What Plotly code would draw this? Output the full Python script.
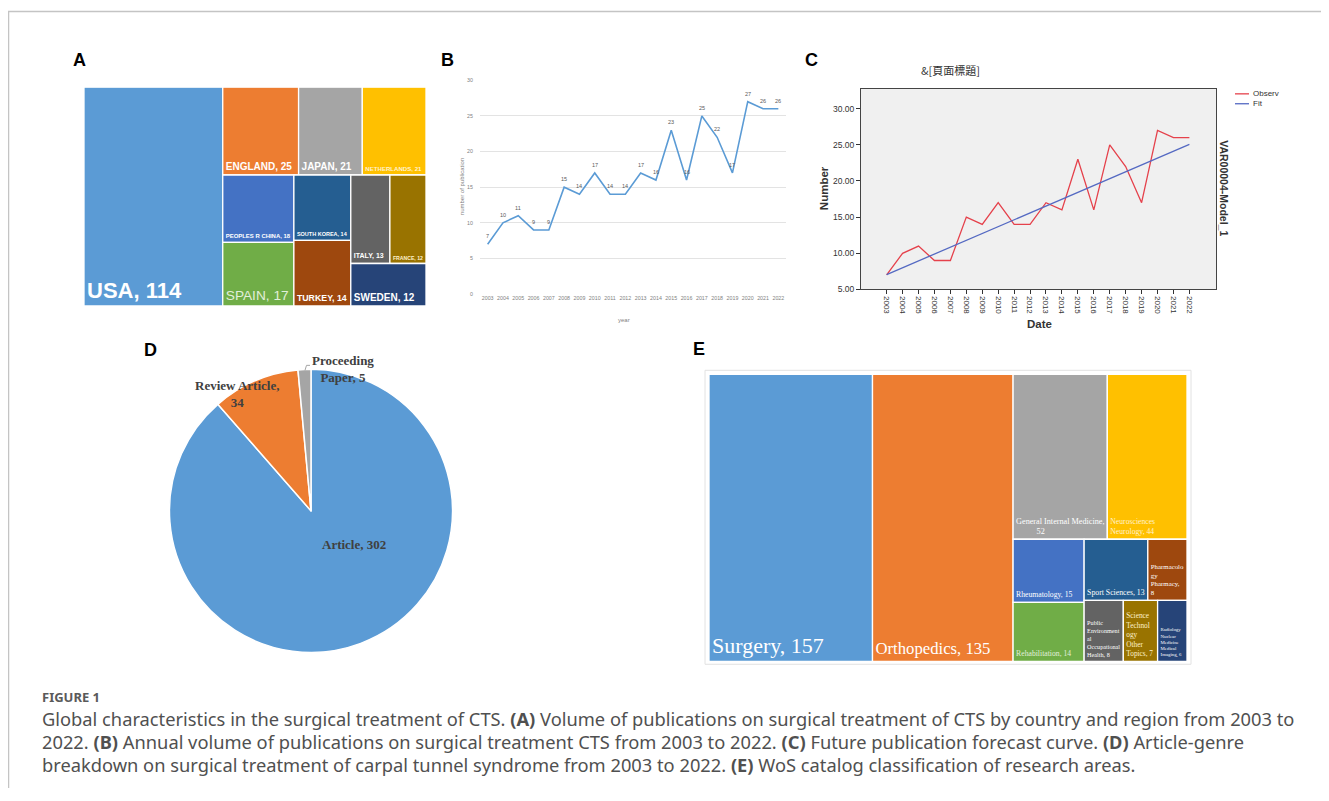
import plotly.graph_objects as go

# The page body has an 8px default margin, so the figure is drawn 8px in and
# sized so that the page exactly fills the 1329x801 window.
OFF = 8
FIG_W, FIG_H = 1329 - 2 * OFF, 801 - 2 * OFF

# ---------------- data ----------------
# Panel A: countries
countries = ["USA", "ENGLAND", "JAPAN", "NETHERLANDS", "PEOPLES R CHINA", "SPAIN",
             "SOUTH KOREA", "TURKEY", "ITALY", "FRANCE", "SWEDEN"]
country_counts = [114, 25, 21, 21, 18, 17, 14, 14, 13, 12, 12]

# Panel B / C: yearly publications
years = ["2003", "2004", "2005", "2006", "2007", "2008", "2009", "2010", "2011", "2012",
         "2013", "2014", "2015", "2016", "2017", "2018", "2019", "2020", "2021", "2022"]
publications = [7, 10, 11, 9, 9, 15, 14, 17, 14, 14, 17, 16, 23, 16, 25, 22, 17, 27, 26, 26]
fit_years = [2003, 2022]
fit_values = [7.05, 25.07]
c_yticks = [5, 10, 15, 20, 25, 30]

# Panel D: article genres
genres = ["Article", "Review Article", "Proceeding Paper"]
genre_counts = [302, 34, 5]

# Panel E: research areas
areas = ["Surgery", "Orthopedics", "General Internal Medicine", "Neurosciences Neurology",
         "Rheumatology", "Rehabilitation", "Sport Sciences", "Pharmacology Pharmacy",
         "Public Environmental Occupational Health", "Science Technology Other Topics",
         "Radiology Nuclear Medicine Medical Imaging"]
area_counts = [157, 135, 52, 44, 15, 14, 13, 8, 8, 7, 6]
area_display = ["Surgery, 157", "Orthopedics, 135", "General Internal Medicine,<br>          52",
                "Neurosciences<br>Neurology, 44", "Rheumatology, 15", "Rehabilitation, 14",
                "Sport Sciences, 13", "Pharmacolo<br>gy<br>Pharmacy,<br>8",
                "Public<br>Environment<br>al<br>Occupational<br>Health, 8",
                "Science<br>Technol<br>ogy<br>Other<br>Topics, 7",
                "Radiology<br>Nuclear<br>Medicine<br>Medical<br>Imaging, 6"]

# ---------------- styles ----------------
a_colors = ["#5B9BD5", "#ED7D31", "#A5A5A5", "#FFC000", "#4472C4", "#70AD47",
            "#255E91", "#9E480E", "#636363", "#997300", "#264478"]
a_text_colors = ["white", "white", "white", "#FFF2CC", "white", "#E2EFDA",
                 "white", "white", "white", "#FFF2CC", "white"]
a_sizes = [22, 10, 10, 6.1, 6, 13.7, 5.5, 8.8, 7, 5.3, 10]
a_templates = ["<b>%{label}, %{value}</b>"] * len(countries)
a_templates[5] = "%{label}, %{value}"
e_colors = ["#5B9BD5", "#ED7D31", "#A5A5A5", "#FFC000", "#4472C4", "#70AD47",
            "#255E91", "#9E480E", "#636363", "#997300", "#264478"]
e_text_colors = ["white", "white", "white", "#FFF2CC", "white", "#E2EFDA",
                 "white", "white", "white", "#FFF2CC", "white"]
e_sizes = [22, 16.7, 8.4, 7.7, 7.7, 7.7, 7.8, 7, 6.2, 7.3, 4.8]


def fx(px):
    return (px - OFF) / FIG_W


def fy(py):
    return 1 - (py - OFF) / FIG_H


fig = go.Figure()

# ---------------- Panel A ----------------
fig.add_trace(go.Treemap(
    labels=countries, parents=[""] * len(countries), values=country_counts,
    marker=dict(colors=a_colors, line=dict(color="white", width=1.3),
                pad=dict(t=0, l=0, r=0, b=0)),
    tiling=dict(packing="squarify", squarifyratio=1.27, pad=0),
    texttemplate=a_templates, textposition="bottom left",
    textfont=dict(family="Liberation Sans", size=a_sizes, color=a_text_colors),
    pathbar=dict(visible=False), sort=True,
    domain=dict(x=[fx(84), fx(426)], y=[fy(306), fy(85)]),
    hoverinfo="label+value",
))

# ---------------- Panel B ----------------
fig.add_trace(go.Scatter(
    x=years, y=publications, mode="lines",
    line=dict(color="#5B9BD5", width=1.6), xaxis="x", yaxis="y",
    cliponaxis=False, showlegend=False,
))

# ---------------- Panel C ----------------
year_nums = [int(y) for y in years]
fig.add_trace(go.Scatter(
    x=year_nums, y=publications, mode="lines", line=dict(color="#E5414B", width=1.3),
    xaxis="x2", yaxis="y2", name="Observed", showlegend=False,
))
fig.add_trace(go.Scatter(
    x=fit_years, y=fit_values, mode="lines", line=dict(color="#5469C2", width=1.3),
    xaxis="x2", yaxis="y2", name="Fit", showlegend=False,
))

# ---------------- Panel D ----------------
fig.add_trace(go.Pie(
    labels=genres, values=genre_counts, sort=False, direction="clockwise", rotation=0,
    marker=dict(colors=["#5B9BD5", "#ED7D31", "#A5A5A5"], line=dict(color="white", width=1.5)),
    textinfo="none",
    domain=dict(x=[fx(168), fx(454)], y=[fy(656), fy(370)]),
    showlegend=False, hoverinfo="label+value",
))

# ---------------- Panel E ----------------
fig.add_trace(go.Treemap(
    labels=areas, parents=[""] * len(areas), values=area_counts, text=area_display,
    marker=dict(colors=e_colors, line=dict(color="white", width=1.3),
                pad=dict(t=0, l=0, r=0, b=0)),
    tiling=dict(packing="squarify", squarifyratio=1.06, pad=0),
    texttemplate="%{text}", textposition="bottom left",
    textfont=dict(family="Liberation Serif", size=e_sizes, color=e_text_colors),
    pathbar=dict(visible=False), sort=True,
    domain=dict(x=[fx(709), fx(1187)], y=[fy(665), fy(375)]),
    hoverinfo="label+value",
))

grey_tick = dict(size=5.3, color="#7F7F7F", family="Liberation Sans")
fig.update_layout(
    width=FIG_W, height=FIG_H, margin=dict(l=0, r=0, t=0, b=0),
    paper_bgcolor="white", plot_bgcolor="rgba(0,0,0,0)", showlegend=False,
    xaxis=dict(domain=[fx(480), fx(786)], type="category", range=[-0.5, 19.5],
               showgrid=False, showline=False, zeroline=False, ticks="",
               tickfont=grey_tick, anchor="y", fixedrange=True),
    yaxis=dict(domain=[fy(294), fy(78)], range=[0, 30], dtick=5, showgrid=True,
               gridcolor="#E3E3E3", gridwidth=0.8, zeroline=False, showline=False,
               ticks="", tickfont=grey_tick, anchor="x", ticklabelstandoff=6, fixedrange=True),
    xaxis2=dict(domain=[fx(861), fx(1216)], range=[2001.39, 2023.67],
                tickvals=year_nums, ticktext=years, tickangle=90, ticks="outside",
                ticklen=4, tickcolor="#333", showline=True, mirror=True, linecolor="#444",
                linewidth=1, showgrid=False, zeroline=False,
                tickfont=dict(size=8, color="#333", family="Liberation Sans"),
                anchor="y2", fixedrange=True),
    yaxis2=dict(domain=[fy(289.3), fy(86.7)], range=[5, 32.74], tickvals=c_yticks,
                tickformat=".2f", ticks="outside", ticklen=4, tickcolor="#333",
                showline=True, mirror=True, linecolor="#444", linewidth=1,
                showgrid=False, zeroline=False,
                tickfont=dict(size=8.5, color="#333", family="Liberation Sans"),
                anchor="x2", fixedrange=True),
)

shapes = [
    # outer frame
    dict(type="line", xref="paper", yref="paper", x0=fx(8), x1=1, y0=fy(8.5), y1=fy(8.5),
         line=dict(color="#C4C4C4", width=1.5)),
    dict(type="line", xref="paper", yref="paper", x0=fx(8.5), x1=fx(8.5), y0=fy(8), y1=0,
         line=dict(color="#C4C4C4", width=1.5)),
    # panel C background
    dict(type="rect", xref="x2 domain", yref="y2 domain", x0=0, x1=1, y0=0, y1=1,
         fillcolor="#F0F0F0", line=dict(width=0), layer="below"),
    # panel C legend
    dict(type="line", xref="paper", yref="paper", x0=fx(1235), x1=fx(1249), y0=fy(91.7),
         y1=fy(91.7), line=dict(color="#E5414B", width=1.3)),
    dict(type="line", xref="paper", yref="paper", x0=fx(1235), x1=fx(1249), y0=fy(101.7),
         y1=fy(101.7), line=dict(color="#5469C2", width=1.3)),
    # panel E frame
    dict(type="rect", xref="paper", yref="paper", x0=fx(705), x1=fx(1191), y0=fy(668),
         y1=fy(371), line=dict(color="#E2E2E2", width=1), fillcolor="rgba(0,0,0,0)",
         layer="below"),
    # pie leader line
    dict(type="path", xref="paper", yref="paper",
         path=f"M {fx(305)} {fy(371)} L {fx(306.5)} {fy(366)} L {fx(310)} {fy(366)}",
         line=dict(color="#A5A5A5", width=1)),
]
fig.update_layout(shapes=shapes)

ann = []


def add_text(text, x, y, size, color="#000", family="Liberation Sans", xanchor="center",
             yanchor="middle", angle=0, align="center"):
    ann.append(dict(text=text, x=fx(x), y=fy(y), xref="paper", yref="paper",
                    showarrow=False, xanchor=xanchor, yanchor=yanchor, textangle=angle,
                    align=align, font=dict(size=size, color=color, family=family)))


# panel B data labels (placed on the data through the category axis, by index)
for idx, val in enumerate(publications):
    ann.append(dict(text=str(val), x=idx, y=val, xref="x", yref="y", showarrow=False,
                    yshift=8, font=dict(size=5.5, color="#595959", family="Liberation Sans")))

# panel letters
for letter, lx, ly in [("A", 79, 57), ("B", 447, 57), ("C", 812, 57), ("D", 150, 350),
                       ("E", 699, 349)]:
    add_text(f"<b>{letter}</b>", lx, ly, 18)

# panel B titles
add_text("number of publication", 462, 186, 6, color="#7F7F7F", angle=-90)
add_text("year", 624, 320, 6, color="#7F7F7F")

# panel C titles
add_text("&[頁面標題]", 950, 68, 11, color="#333", family="Noto Sans CJK TC")
add_text("<b>Number</b>", 824, 187, 11.5, color="#333", angle=-90)
add_text("<b>Date</b>", 1039, 324, 11.5, color="#333")
add_text("<b>VAR00004-Model_1</b>", 1224, 187, 10.5, color="#333", angle=90)
add_text("Observ", 1251, 91.7, 8, color="#333", xanchor="left")
add_text("Fit", 1251, 101.7, 8, color="#333", xanchor="left")

# panel D labels
add_text(f"<b>{genres[0]}, {genre_counts[0]}</b>", 354, 547, 13, color="#404040",
         family="Liberation Serif")
add_text(f"<b>Review Article,<br>{genre_counts[1]}</b>", 237, 395, 13, color="#404040",
         family="Liberation Serif")
add_text(f"<b>Proceeding<br>Paper, {genre_counts[2]}</b>", 342.5, 369.5, 13, color="#404040",
         family="Liberation Serif")

# caption
cap_color = "#505050"
add_text("<b>FIGURE 1</b>", 40, 701, 13, color="#5A5A5A", family="Noto Sans", xanchor="left")
cap_lines = [
    "Global characteristics in the surgical treatment of CTS. <b>(A)</b> Volume of publications on surgical treatment of CTS by country and region from 2003 to",
    "2022. <b>(B)</b> Annual volume of publications on surgical treatment CTS from 2003 to 2022. <b>(C)</b> Future publication forecast curve. <b>(D)</b> Article-genre",
    "breakdown on surgical treatment of carpal tunnel syndrome from 2003 to 2022. <b>(E)</b> WoS catalog classification of research areas.",
]
for i, line in enumerate(cap_lines):
    add_text(line, 40, 723 + 23 * i, 18.3, color=cap_color, family="Noto Sans", xanchor="left")

fig.update_layout(annotations=ann)

fig.write_html("out.html")
